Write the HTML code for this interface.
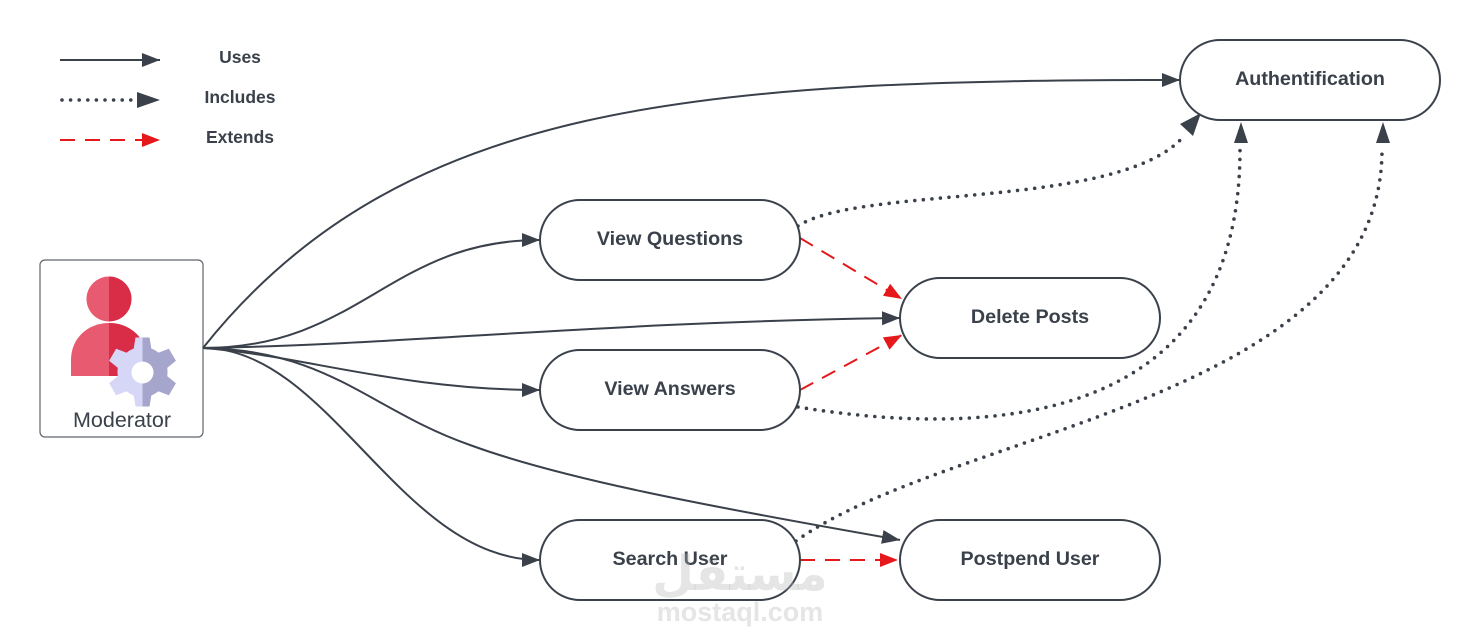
<!DOCTYPE html>
<html>
<head>
<meta charset="utf-8">
<style>
html,body{margin:0;padding:0;background:#fff;}
svg{display:block;}
.node{fill:#fff;stroke:#3a414a;stroke-width:2;}
.lbl{font-family:"Liberation Sans",Arial,sans-serif;font-weight:bold;font-size:19.7px;fill:#3a414a;text-anchor:middle;}
.leg{font-family:"Liberation Sans",Arial,sans-serif;font-weight:bold;font-size:17.5px;fill:#3a414a;text-anchor:middle;}
.uses{fill:none;stroke:#3a414a;stroke-width:2;}
.inc{fill:none;stroke:#3a414a;stroke-width:3.6;stroke-linecap:round;stroke-dasharray:0 8.6;}
.ext{fill:none;stroke:#e5191b;stroke-width:2;stroke-dasharray:15 10;}
</style>
</head>
<body>
<svg width="1480" height="640" viewBox="0 0 1480 640" xmlns="http://www.w3.org/2000/svg">
<defs>
  <marker id="ad" markerWidth="20" markerHeight="16" refX="18" refY="7" orient="auto" markerUnits="userSpaceOnUse">
    <path d="M0,0 L18,7 L0,14 z" fill="#3a414a"/>
  </marker>
  <marker id="ar" markerWidth="20" markerHeight="16" refX="18" refY="7" orient="auto" markerUnits="userSpaceOnUse">
    <path d="M0,0 L18,7 L0,14 z" fill="#e5191b"/>
  </marker>
  <clipPath id="rightHalfGear"><rect x="142.5" y="330" width="50" height="90"/></clipPath>
  <clipPath id="rightHalfBody"><rect x="109" y="270" width="60" height="120"/></clipPath>
  <g id="gear">
    <circle cx="0" cy="0" r="25"/>
    <polygon points="-9,-22 9,-22 7,-34.5 -7,-34.5"/>
    <polygon points="-9,-22 9,-22 7,-34.5 -7,-34.5" transform="rotate(60)"/>
    <polygon points="-9,-22 9,-22 7,-34.5 -7,-34.5" transform="rotate(120)"/>
    <polygon points="-9,-22 9,-22 7,-34.5 -7,-34.5" transform="rotate(180)"/>
    <polygon points="-9,-22 9,-22 7,-34.5 -7,-34.5" transform="rotate(240)"/>
    <polygon points="-9,-22 9,-22 7,-34.5 -7,-34.5" transform="rotate(300)"/>
  </g>
  <g id="person">
    <circle cx="109" cy="299" r="22.5"/>
    <path d="M71,376 V360 C71,338 88,323 109,323 C130,323 147,338 147,360 V376 Z"/>
  </g>
</defs>

<!-- Legend -->
<line x1="60" y1="60" x2="160" y2="60" class="uses" marker-end="url(#ad)"/>
<line x1="62" y1="100" x2="132" y2="100" class="inc"/>
<path d="M137,92 L160,100 L137,108 z" fill="#3a414a"/>
<line x1="60" y1="140" x2="160" y2="140" class="ext" marker-end="url(#ar)"/>
<text x="240" y="63" class="leg">Uses</text>
<text x="240" y="103" class="leg">Includes</text>
<text x="240" y="143" class="leg">Extends</text>

<!-- Actor -->
<rect x="40" y="260" width="163" height="177" rx="5" ry="5" fill="#fff" stroke="#5f646b" stroke-width="1.2"/>
<use href="#person" fill="#e85a70"/>
<use href="#person" fill="#d92d47" clip-path="url(#rightHalfBody)"/>
<g transform="translate(142.5,372)" fill="#d6d6f6"><use href="#gear"/></g>
<g clip-path="url(#rightHalfGear)"><g transform="translate(142.5,372)" fill="#a6a6cc"><use href="#gear"/></g></g>
<circle cx="142.5" cy="372.5" r="11" fill="#fff"/>
<text x="122" y="427" font-family="'Liberation Sans',Arial,sans-serif" font-size="21.5" fill="#3a414a" text-anchor="middle">Moderator</text>

<!-- Uses connectors -->
<path class="uses" d="M203,348 C400,100 700,80 1180,80" marker-end="url(#ad)"/>
<path class="uses" d="M203,348 C360,348 390,240 540,240" marker-end="url(#ad)"/>
<path class="uses" d="M203,348 C400,345 600,322 900,318" marker-end="url(#ad)"/>
<path class="uses" d="M203,348 C300,355 400,390 540,390" marker-end="url(#ad)"/>
<path class="uses" d="M203,348 C330,350 370,410 470,445 C560,478 700,505 900,540" marker-end="url(#ad)"/>
<path class="uses" d="M203,348 C330,348 400,560 540,560" marker-end="url(#ad)"/>

<!-- Includes connectors -->
<path class="inc" d="M798,226 C860,185 1120,210 1184,136"/>
<polygon points="1201,113 1193,136 1180,124" fill="#3a414a"/>
<path class="inc" d="M798,407 C1000,440 1240,420 1240,150"/>
<polygon points="1241,122 1248,143 1234,143" fill="#3a414a"/>
<path class="inc" d="M796,541 C950,430 1382,400 1382,150"/>
<polygon points="1383,122 1390,143 1376,143" fill="#3a414a"/>

<!-- Extends connectors -->
<path class="ext" d="M800,238 L902,299" marker-end="url(#ar)"/>
<path class="ext" d="M800,390 L902,335" marker-end="url(#ar)"/>
<path class="ext" d="M800,560 L898,560" marker-end="url(#ar)"/>

<!-- Nodes -->
<rect class="node" x="1180" y="40" width="260" height="80" rx="40" ry="40"/>
<text x="1310" y="85" class="lbl">Authentification</text>
<rect class="node" x="540" y="200" width="260" height="80" rx="40" ry="40"/>
<text x="670" y="245" class="lbl">View Questions</text>
<rect class="node" x="900" y="278" width="260" height="80" rx="40" ry="40"/>
<text x="1030" y="323" class="lbl">Delete Posts</text>
<rect class="node" x="540" y="350" width="260" height="80" rx="40" ry="40"/>
<text x="670" y="395" class="lbl">View Answers</text>
<rect class="node" x="540" y="520" width="260" height="80" rx="40" ry="40"/>
<text x="670" y="565" class="lbl">Search User</text>
<rect class="node" x="900" y="520" width="260" height="80" rx="40" ry="40"/>
<text x="1030" y="565" class="lbl">Postpend User</text>

<!-- Watermark -->
<text x="740" y="590" font-family="'DejaVu Sans','Noto Sans CJK SC',sans-serif" font-weight="bold" font-size="48" fill="#b4b4b4" fill-opacity="0.35" text-anchor="middle">مستقل</text>
<text x="740" y="621" font-family="'Liberation Sans',Arial,sans-serif" font-weight="bold" font-size="27" fill="#b4b4b4" fill-opacity="0.35" text-anchor="middle">mostaql.com</text>
</svg>
</body>
</html>
